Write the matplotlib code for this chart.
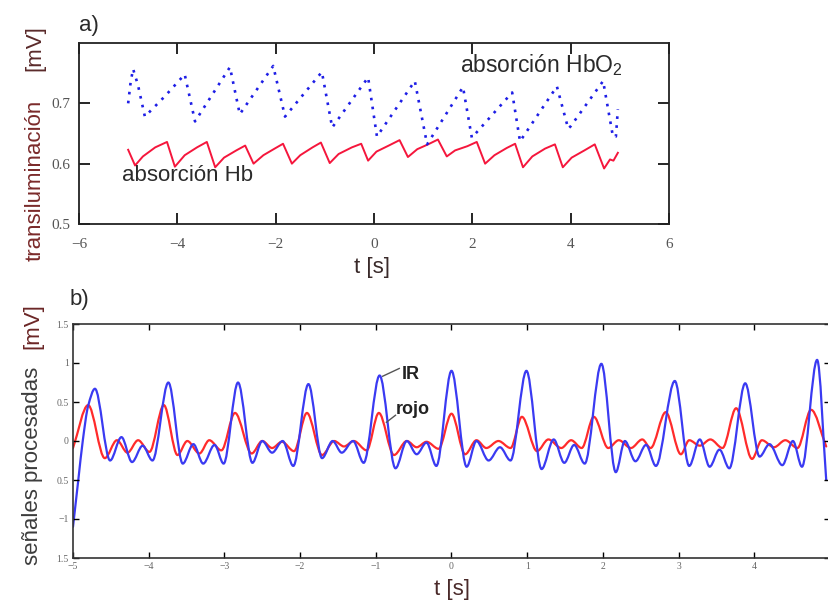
import matplotlib
matplotlib.use("Agg")
import matplotlib.pyplot as plt
from matplotlib.path import Path
from matplotlib.patches import PathPatch

plt.rcParams.update({
    "font.family": "Liberation Sans",
    "font.size": 12,
    "figure.facecolor": "white",
    "axes.unicode_minus": True,
})

W, H = 829, 601

# ── a) transiluminación ────────────────────────────────────────────────
hb_t = [-5.00, -4.86, -4.70, -4.45, -4.21, -4.05, -3.85, -3.60, -3.40, -3.23,
        -3.05, -2.80, -2.62, -2.45, -2.25, -2.02, -1.85, -1.67, -1.50, -1.25,
        -1.08, -0.90, -0.72, -0.45, -0.26, -0.12, 0.05, 0.30, 0.52, 0.69,
        0.88, 1.10, 1.30, 1.48, 1.65, 1.90, 2.09, 2.26, 2.45, 2.70,
        2.87, 3.03, 3.22, 3.48, 3.68, 3.84, 4.02, 4.28, 4.49, 4.68,
        4.80, 4.87, 4.96]
hb_v = [0.623, 0.597, 0.612, 0.627, 0.636, 0.595, 0.614, 0.627, 0.636, 0.594,
        0.610, 0.622, 0.630, 0.600, 0.614, 0.625, 0.633, 0.600, 0.614, 0.627,
        0.635, 0.601, 0.616, 0.627, 0.633, 0.605, 0.620, 0.630, 0.639, 0.611,
        0.624, 0.632, 0.640, 0.612, 0.622, 0.629, 0.636, 0.600, 0.614, 0.626,
        0.633, 0.594, 0.612, 0.625, 0.632, 0.594, 0.610, 0.622, 0.632, 0.592,
        0.607, 0.605, 0.618]

hbo2_t = [-5.00, -4.95, -4.90, -4.80, -4.66, -4.25, -3.85, -3.64, -2.93, -2.73,
          -2.05, -1.81, -1.06, -0.85, -0.12, 0.06, 0.83, 1.08, 1.81, 1.99,
          2.81, 2.97, 3.72, 3.95, 4.00, 4.66, 4.86, 4.92, 4.96]
hbo2_v = [0.700, 0.735, 0.757, 0.730, 0.678, 0.712, 0.748, 0.670, 0.760, 0.682,
          0.762, 0.678, 0.752, 0.660, 0.743, 0.645, 0.737, 0.632, 0.727, 0.643,
          0.718, 0.637, 0.728, 0.658, 0.662, 0.737, 0.645, 0.645, 0.690]

top_xticks = [-6, -4, -2, 0, 2, 4, 6]
top_yticks = [0.5, 0.6, 0.7]

# ── b) señales procesadas ──────────────────────────────────────────────
ir_t = [-5.00, -4.93, -4.87, -4.80, -4.71, -4.51, -4.36, -4.22, -4.08,
        -3.95, -3.74, -3.55, -3.41, -3.28, -3.13, -3.01, -2.82, -2.63, -2.50,
        -2.37, -2.23, -2.09, -1.89, -1.71, -1.57, -1.45, -1.30, -1.16, -0.95,
        -0.74, -0.59, -0.46, -0.33, -0.20, 0.00, 0.20, 0.33, 0.49, 0.64,
        0.78, 0.99, 1.19, 1.35, 1.49, 1.62, 1.76, 1.98, 2.17, 2.29,
        2.43, 2.57, 2.70, 2.95, 3.14, 3.28, 3.41, 3.54, 3.67, 3.88,
        4.07, 4.20, 4.37, 4.51, 4.63, 4.83, 4.95]
ir_v = [-1.10, -0.50, 0.01, 0.45, 0.67, -0.25, 0.05, -0.27, -0.06,
        -0.25, 0.75, -0.29, -0.04, -0.29, -0.05, -0.29, 0.75, -0.28, 0.00,
        -0.15, 0.00, -0.32, 0.73, -0.22, 0.00, -0.15, 0.00, -0.28, 0.84,
        -0.35, 0.00, -0.17, -0.02, -0.32, 0.90, -0.33, 0.00, -0.25, -0.08,
        -0.25, 0.90, -0.36, 0.02, -0.28, -0.05, -0.29, 0.99, -0.40, 0.00,
        -0.26, -0.05, -0.32, 0.77, -0.32, 0.02, -0.33, -0.11, -0.35, 0.74,
        -0.20, -0.04, -0.31, 0.00, -0.33, 1.04, -0.50]

rojo_t = [-5.00, -4.80, -4.58, -4.42, -4.28, -4.14, -3.99, -3.80, -3.62, -3.49,
          -3.33, -3.20, -3.04, -2.86, -2.64, -2.50, -2.37, -2.24, -2.08, -1.91,
          -1.71, -1.55, -1.42, -1.29, -1.12, -0.96, -0.76, -0.59, -0.46, -0.33,
          -0.17, 0.00, 0.18, 0.33, 0.46, 0.62, 0.78, 0.93, 1.13, 1.28,
          1.45, 1.58, 1.72, 1.88, 2.07, 2.21, 2.37, 2.52, 2.63, 2.83,
          3.03, 3.14, 3.28, 3.42, 3.58, 3.76, 3.97, 4.10, 4.26, 4.41,
          4.57, 4.75, 4.95]
rojo_v = [-0.09, 0.46, -0.22, 0.01, -0.15, 0.01, -0.14, 0.46, -0.18, 0.00,
          -0.16, 0.01, -0.12, 0.36, -0.16, 0.00, -0.09, -0.01, -0.13, 0.36,
          -0.18, 0.00, -0.07, 0.00, -0.12, 0.36, -0.18, 0.00, -0.08, -0.01,
          -0.10, 0.35, -0.17, 0.01, -0.09, 0.00, -0.09, 0.31, -0.13, 0.02,
          -0.09, 0.01, -0.09, 0.31, -0.09, 0.01, -0.09, 0.02, -0.09, 0.37,
          -0.17, 0.01, -0.06, 0.02, -0.09, 0.42, -0.23, 0.01, -0.08, 0.01,
          -0.09, 0.40, -0.07]

bot_xticks = [-5, -4, -3, -2, -1, 0, 1, 2, 3, 4]
bot_xlabels = ["\u22125", "\u22124", "\u22123", "\u22122", "\u22121", "0", "1", "2", "3", "4"]
bot_yticks = [-1.5, -1, -0.5, 0, 0.5, 1, 1.5]
bot_ylabels = ["1.5", "\u22121", "0.5", "0", "0.5", "1", "1.5"]


def px(x, y):
    """pixel (desde arriba-izquierda) -> fracción de figura"""
    return x / W, 1 - y / H


def box(x0, y0, x1, y1):
    return [x0 / W, 1 - y1 / H, (x1 - x0) / W, (y1 - y0) / H]


def smooth_line(ax, xs, ys, **kw):
    """Curva suave (Bézier cúbica, tangentes monótonas) a través de los puntos leídos."""
    n = len(xs)
    d = [(ys[i + 1] - ys[i]) / (xs[i + 1] - xs[i]) for i in range(n - 1)]
    m = [d[0]] + [0.0] * (n - 2) + [d[-1]]
    for i in range(1, n - 1):
        if d[i - 1] * d[i] > 0:
            m[i] = 2 / (1 / d[i - 1] + 1 / d[i])
    verts = [(xs[0], ys[0])]
    codes = [Path.MOVETO]
    for i in range(n - 1):
        h = (xs[i + 1] - xs[i]) / 3
        verts += [(xs[i] + h, ys[i] + m[i] * h),
                  (xs[i + 1] - h, ys[i + 1] - m[i + 1] * h),
                  (xs[i + 1], ys[i + 1])]
        codes += [Path.CURVE4] * 3
    patch = PathPatch(Path(verts, codes), fill=False, capstyle="round",
                      joinstyle="round", transform=ax.transData, **kw)
    ax.add_patch(patch)
    return patch


fig = plt.figure(figsize=(W / 100, H / 100), dpi=100)

# ── panel a ─────────────────────────────────────────────────────────────
ax1 = fig.add_axes(box(79, 43, 669, 224))
ax1.plot(hb_t, hb_v, color="#f5163c", lw=1.4)
ax1.plot(hbo2_t, hbo2_v, color="#1e1ee6", lw=1.9, linestyle=(0, (1, 2.4)))
ax1.set_xlim(-6, 6)
ax1.set_ylim(0.5, 0.8)
ax1.set_xticks(top_xticks)
ax1.set_yticks(top_yticks)
ax1.set_xticklabels([f"{v:g}".replace("-", "\u2212") for v in top_xticks])
ax1.set_yticklabels([f"{v:g}" for v in top_yticks])
ax1.tick_params(axis="x", pad=10)
ax1.tick_params(direction="in", length=8, width=1.2, top=True, right=True,
                labelsize=11, labelcolor="#555555")
ax1.tick_params(axis="y", pad=6)
for lab in ax1.get_xticklabels() + ax1.get_yticklabels():
    lab.set_family("Liberation Serif")
for sp in ax1.spines.values():
    sp.set_linewidth(1.3)
    sp.set_color("#222222")

ax1.text(-5.12, 0.598, "absorción Hb", fontsize=16, color="#2a2a2a",
         ha="left", va="top")
ax1.text(1.75, 0.752, r"absorción HbO$_\mathregular{2}$", fontsize=16.5,
         color="#2a2a2a", ha="left", va="baseline")

# ── panel b ─────────────────────────────────────────────────────────────
ax2 = fig.add_axes(box(73, 324, 830, 558))
smooth_line(ax2, rojo_t, rojo_v, edgecolor="#ff2b2b", lw=1.6)
smooth_line(ax2, ir_t, ir_v, edgecolor="#3a3af2", lw=1.6)
ax2.set_xlim(-5, 5)
ax2.set_ylim(-1.5, 1.5)
ax2.set_xticks(bot_xticks)
ax2.set_xticklabels(bot_xlabels)
ax2.set_yticks(bot_yticks)
ax2.set_yticklabels(bot_ylabels)
ax2.tick_params(direction="in", length=4, width=1.0, top=True, right=True,
                labelsize=7, labelcolor="#666666", pad=3)
for lab in ax2.get_xticklabels() + ax2.get_yticklabels():
    lab.set_family("Liberation Serif")
for sp in ax2.spines.values():
    sp.set_linewidth(1.2)
    sp.set_color("#333333")

# IR: guía diagonal desde el pico hasta la etiqueta
ax2.plot([-0.91, -0.69], [0.83, 0.93], color="#555555", lw=1.0)
ax2.text(-0.66, 0.85, "IR", fontsize=13, fontweight="bold", color="#222222",
         ha="left", va="center")
# rojo: guía corta hacia la curva
ax2.plot([-0.86, -0.74], [0.24, 0.33], color="#555555", lw=1.0)
ax2.text(-0.74, 0.41, "rojo", fontsize=13, fontweight="bold", color="#222222",
         ha="left", va="center")

# ── textos sueltos ──────────────────────────────────────────────────────
fig.text(*px(79, 25), "a)", fontsize=16, color="#2a2a2a", va="center")
fig.text(*px(70, 299), "b)", fontsize=16, color="#2a2a2a", va="center")

fig.text(*px(35, 180), "transiluminación", rotation=90, fontsize=16,
         color="#7a2a2a", ha="center", va="center")
fig.text(*px(35, 48), "[mV]", rotation=90, fontsize=16,
         color="#5a2a2a", ha="center", va="center")
fig.text(*px(372, 267), "t [s]", fontsize=16, color="#3a2a2a",
         ha="center", va="center")

fig.text(*px(33, 466), "señales procesadas", rotation=90, fontsize=16,
         color="#3c3c3c", ha="center", va="center")
fig.text(*px(33, 326), "[mV]", rotation=90, fontsize=16,
         color="#6b2626", ha="center", va="center")
fig.text(*px(452, 590), "t [s]", fontsize=16, color="#4a2a2a",
         ha="center", va="center")

fig.savefig("out.png", dpi=100)
